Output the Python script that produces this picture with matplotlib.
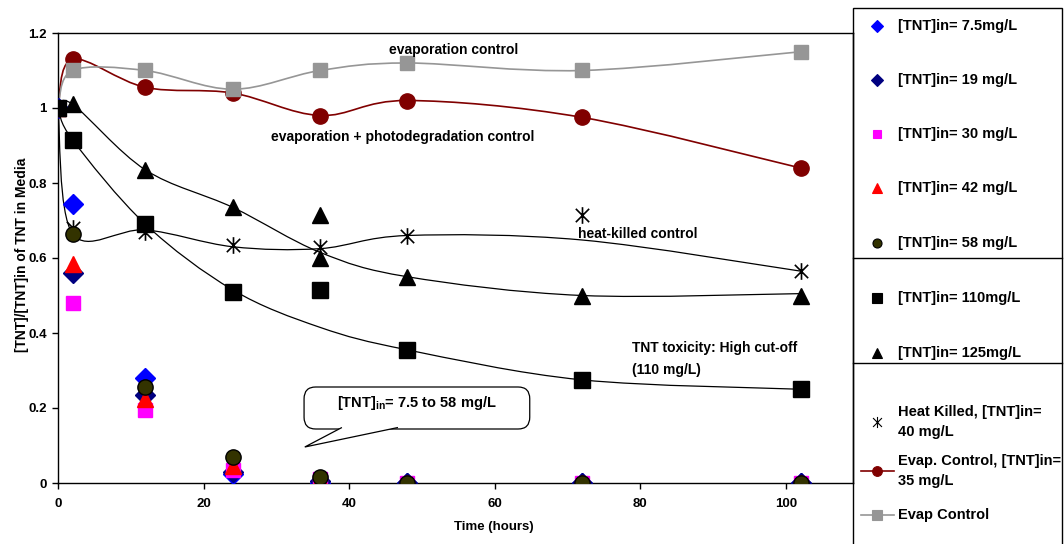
import numpy as np
import matplotlib
matplotlib.use("Agg")
import matplotlib.pyplot as plt
from matplotlib.path import Path
from matplotlib.patches import PathPatch, FancyBboxPatch, Polygon, Rectangle
from matplotlib.lines import Line2D

plt.rcParams['font.family'] = ['Liberation Sans', 'DejaVu Sans']
plt.rcParams['font.weight'] = 'bold'
plt.rcParams['mathtext.fontset'] = 'custom'
plt.rcParams['mathtext.rm'] = 'Liberation Sans:bold'
plt.rcParams['mathtext.bf'] = 'Liberation Sans:bold'

# time points (hours)
hours = [0, 2, 12, 24, 36, 48, 72, 102]

# low initial concentrations (markers only)
tnt_7_5 = [1.0, 0.745, 0.28, 0.025, 0.0, 0.0, 0.0, 0.0]
tnt_19 = [1.0, 0.56, 0.235, 0.03, 0.005, 0.0, 0.0, 0.0]
tnt_30 = [1.0, 0.48, 0.195, 0.035, 0.01, 0.0, 0.0, 0.0]
tnt_42 = [1.0, 0.585, 0.225, 0.045, 0.01, 0.0, 0.0, 0.0]
tnt_58 = [1.0, 0.665, 0.255, 0.07, 0.017, 0.0, 0.0, 0.0]

# high initial concentrations
tnt_110 = [1.0, 0.915, 0.69, 0.51, 0.515, 0.355, 0.275, 0.25]
tnt_110_curve = [1.0, 0.915, 0.69, 0.515, 0.415, 0.355, 0.275, 0.25]
tnt_125 = [1.0, 1.01, 0.835, 0.735, 0.60, 0.55, 0.50, 0.50]
tnt_125_rep_hours = [36]
tnt_125_rep = [0.715]
tnt_125_curve = [1.0, 1.01, 0.835, 0.735, 0.615, 0.55, 0.50, 0.505]

# controls
heat_killed = [1.0, 0.68, 0.67, 0.635, 0.63, 0.66, 0.715, 0.565]
heat_killed_curve = [1.0, 0.665, 0.675, 0.63, 0.625, 0.66, 0.648, 0.565]
evap_photo = [1.0, 1.13, 1.055, 1.04, 0.98, 1.02, 0.975, 0.84]
evap = [1.0, 1.10, 1.10, 1.05, 1.10, 1.12, 1.10, 1.15]

legend_labels = ["[TNT]in= 7.5mg/L", "[TNT]in= 19 mg/L", "[TNT]in= 30 mg/L",
                 "[TNT]in= 42 mg/L", "[TNT]in= 58 mg/L", "[TNT]in= 110mg/L",
                 "[TNT]in= 125mg/L", "Heat Killed, [TNT]in=\n40 mg/L",
                 "Evap. Control, [TNT]in=\n35 mg/L", "Evap Control"]

asterisk = Path([(-1, -1), (1, 1), (-1, 1), (1, -1), (0, -1.25), (0, 1.25)],
                [Path.MOVETO, Path.LINETO, Path.MOVETO, Path.LINETO, Path.MOVETO, Path.LINETO])

styles = [
    dict(marker='D', color='#0000FF', mec='#0000FF'),
    dict(marker='D', color='#000080', mec='#000080'),
    dict(marker='s', color='#FF00FF', mec='#FF00FF'),
    dict(marker='^', color='#FF0000', mec='#FF0000'),
    dict(marker='o', color='#333300', mec='black'),
    dict(marker='s', color='black', mec='black'),
    dict(marker='^', color='black', mec='black'),
    dict(marker=asterisk, color='black', mec='black'),
    dict(marker='o', color='#800000', mec='#800000'),
    dict(marker='s', color='#969696', mec='#969696'),
]
plot_sizes = [10, 10, 10.5, 11, 11, 12, 12, 12, 11, 10.5]


def smooth_curve(x, y):
    # Excel-like smoothed line as bezier segments through the points
    p = np.column_stack([x, y]).astype(float)
    ext = np.vstack([p[:1], p, p[-1:]])
    verts = [p[0]]
    codes = [Path.MOVETO]
    for i in range(len(p) - 1):
        c1 = ext[i + 1] + (ext[i + 2] - ext[i]) / 6
        c2 = ext[i + 2] - (ext[i + 3] - ext[i + 1]) / 6
        verts += [c1, c2, p[i + 1]]
        codes += [Path.CURVE4] * 3
    return Path(verts, codes)


W, H = 1064, 544
fig = plt.figure(figsize=(W / 100, H / 100), dpi=100)
ax = fig.add_axes([58 / W, 1 - 483 / H, (853 - 58) / W, (483 - 33) / H])

series = [tnt_7_5, tnt_19, tnt_30, tnt_42, tnt_58, tnt_110, tnt_125,
          heat_killed, evap_photo, evap]
curves = {5: (tnt_110_curve, 'black', 0.9), 6: (tnt_125_curve, 'black', 0.9),
          7: (heat_killed_curve, 'black', 0.9), 8: (evap_photo, '#800000', 1.2),
          9: (evap, '#969696', 1.2)}
# drawing order (back to front)
draw_order = [8, 9, 7, 0, 1, 2, 3, 4, 6, 5]

z = 2
for i in draw_order:
    vals = series[i]
    if i in curves:
        cv, col, lw = curves[i]
        ax.add_patch(PathPatch(smooth_curve(hours, cv), fill=False, ec=col, lw=lw, zorder=z))
        z += 0.1
    st = styles[i]
    face = 'none' if i == 7 else st['color']
    ax.plot(hours, vals, ls='none', marker=st['marker'], ms=plot_sizes[i],
            mfc=face, mec=st['mec'], mew=1.2 if i == 7 else 1.0, zorder=z)
    if i == 6:
        ax.plot(tnt_125_rep_hours, tnt_125_rep, ls='none', marker='^', ms=plot_sizes[i],
                mfc='black', mec='black', zorder=z)
    z += 0.1

ax.set_xlim(0, (853 - 58) / 7.28)
ax.set_ylim(0, 1.2)
ax.set_xticks([0, 20, 40, 60, 80, 100])
ax.set_yticks([0, 0.2, 0.4, 0.6, 0.8, 1.0, 1.2])
ax.set_yticklabels(['0', '0.2', '0.4', '0.6', '0.8', '1', '1.2'])
ax.tick_params(direction='out', length=4, width=1, labelsize=9.5)
ax.tick_params(axis='x', pad=6.5)
ax.tick_params(axis='y', pad=4)
for s in ax.spines.values():
    s.set_linewidth(1)
ax.set_xlabel("Time (hours)", fontsize=9.5, fontweight='bold', va='center')
ax.xaxis.set_label_coords(0.548, -0.098)
ax.set_ylabel("[TNT]/[TNT]in of TNT in Media", fontsize=10, fontweight='bold', va='center')
ax.yaxis.set_label_coords(-0.045, 0.507)

# annotations
ax.text(54.3, 1.155, "evaporation control", fontsize=10, ha='center', va='center')
ax.text(47.3, 0.923, "evaporation + photodegradation control", fontsize=10, ha='center', va='center')
ax.text(71.4, 0.664, "heat-killed control", fontsize=10, ha='left', va='center')
ax.text(78.8, 0.36, "TNT toxicity: High cut-off", fontsize=10, ha='left', va='center')
ax.text(78.8, 0.301, "(110 mg/L)", fontsize=10, ha='left', va='center')

# speech bubble callout
box = FancyBboxPatch((33.8, 0.144), 31.0, 0.112,
                     boxstyle="round,pad=0,rounding_size=1.6",
                     mutation_aspect=0.0195, fc='white', ec='black', lw=0.9, zorder=5)
ax.add_patch(box)
tail = Polygon([(39.0, 0.148), (33.9, 0.096), (46.7, 0.148)], closed=False,
               fc='white', ec='black', lw=0.9, zorder=6)
ax.add_patch(tail)
ax.text(49.3, 0.213, r"[TNT]$_{\mathrm{in}}$= 7.5 to 58 mg/L", fontsize=10.5,
        ha='center', va='center', zorder=7)

# legend drawn as separate boxes at the right
def fx(px):
    return px / W


def fy(py):
    return 1 - py / H


fig.add_artist(Rectangle((fx(853), fy(560)), fx(1062) - fx(853), fy(8) - fy(560),
                         transform=fig.transFigure, fill=False, ec='black', lw=1))
for py in [258, 363]:
    fig.add_artist(Line2D([fx(853), fx(1062)], [fy(py), fy(py)],
                          transform=fig.transFigure, color='black', lw=1))

leg_y = [26, 80, 134, 188, 243, 298, 353, 422, 471, 515]
leg_sizes = [6, 6, 6, 7, 6.5, 6.5, 7, 8, 7, 6.5]
for i, (lab, py) in enumerate(zip(legend_labels, leg_y)):
    st = styles[i]
    if i >= 8:
        fig.add_artist(Line2D([fx(861), fx(894)], [fy(py), fy(py)], transform=fig.transFigure,
                              color=st['color'], lw=1.2))
    face = 'none' if i == 7 else st['color']
    fig.add_artist(Line2D([fx(877)], [fy(py)], transform=fig.transFigure, ls='none',
                          marker=st['marker'], ms=leg_sizes[i], mfc=face,
                          mec=st['mec'], mew=0.8))
    fig.text(fx(898), fy(py), lab, fontsize=10.5, ha='left', va='center', linespacing=1.5)

fig.savefig("out.png", dpi=100)
